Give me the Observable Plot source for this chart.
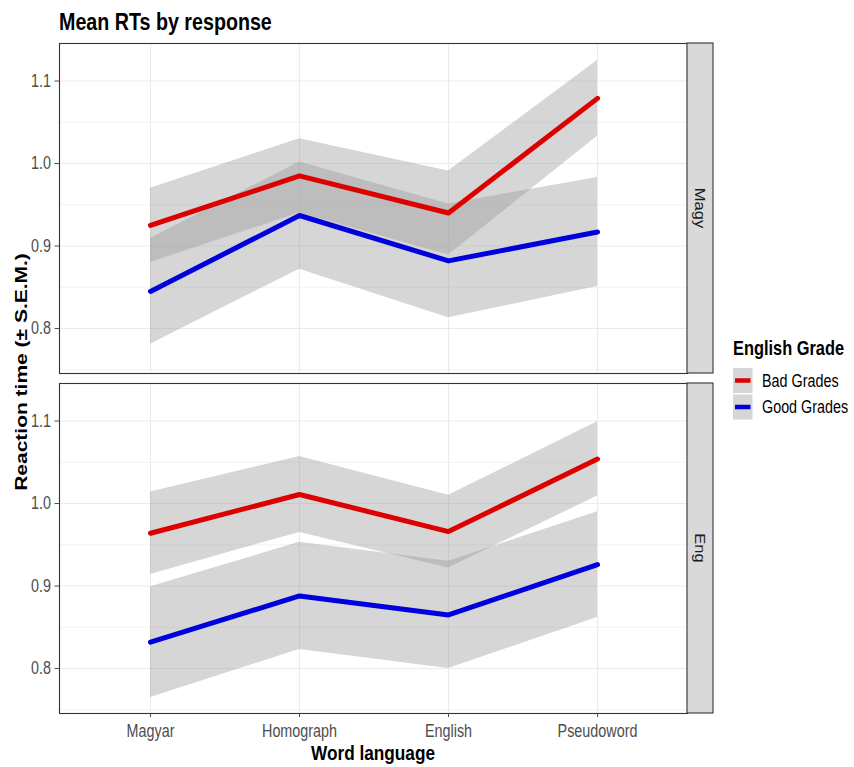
<!DOCTYPE html>
<html>
<head>
<meta charset="utf-8">
<script src="https://cdn.jsdelivr.net/npm/d3@7"></script>
<script src="https://cdn.jsdelivr.net/npm/@observablehq/plot@0.6"></script>
<style>
  body { margin: 0; background: #fff; }
</style>
</head>
<body>
<div id="chart"></div>
<script>
// Word categories along the x axis
const categories = ["Magyar", "Homograph", "English", "Pseudoword"];
// Facet rows (response language) and the grade groups
const facets = ["Magy", "Eng"];
const groups = ["Bad Grades", "Good Grades"];

// Mean reaction times (s) and standard errors, per facet and group
const magyBad = [0.925, 0.985, 0.940, 1.079];
const magyBadSem = [0.045, 0.045, 0.051, 0.046];
const magyGood = [0.845, 0.937, 0.882, 0.917];
const magyGoodSem = [0.064, 0.065, 0.069, 0.066];
const engBad = [0.964, 1.011, 0.966, 1.054];
const engBadSem = [0.050, 0.046, 0.044, 0.045];
const engGood = [0.832, 0.888, 0.865, 0.926];
const engGoodSem = [0.067, 0.065, 0.065, 0.064];

// Axis ticks
const yTicks = [0.8, 0.9, 1.0, 1.1];
const yMinor = [0.75, 0.85, 0.95, 1.05];

const series = [
  ["Magy", "Bad Grades", magyBad, magyBadSem],
  ["Magy", "Good Grades", magyGood, magyGoodSem],
  ["Eng", "Bad Grades", engBad, engBadSem],
  ["Eng", "Good Grades", engGood, engGoodSem]
];
const rows = series.flatMap(([panel, grade, means, sems]) =>
  categories.map((word, i) => ({
    panel, grade, word,
    rt: means[i],
    lo: means[i] - sems[i],
    hi: means[i] + sems[i]
  }))
);

const font = "'Liberation Sans',Arial,sans-serif";
const SQ = 0.82; // horizontal condensing of the text
const lineColors = ["#dd0000", "#0000dd"];

const chart = Plot.plot({
  width: 854,
  height: 767,
  marginTop: 42,
  marginLeft: 59,
  marginRight: 167,
  marginBottom: 53,
  style: { fontFamily: font, background: "#fff", overflow: "visible" },
  x: { type: "point", domain: categories, padding: 0.6, label: null },
  y: { domain: [0.7455, 1.1455], label: null },
  fy: { domain: facets, paddingInner: 0.028, paddingOuter: 0, axis: null, label: null },
  color: { domain: groups, range: lineColors },
  marks: [
    Plot.gridY(yMinor, { stroke: "#ebebeb", strokeOpacity: 1, strokeWidth: 0.6 }),
    Plot.gridY(yTicks, { stroke: "#ebebeb", strokeOpacity: 1, strokeWidth: 1.1 }),
    Plot.gridX(categories, { stroke: "#ebebeb", strokeOpacity: 1, strokeWidth: 1.1 }),
    Plot.areaY(rows, { x: "word", y1: "lo", y2: "hi", z: "grade", fy: "panel", fill: "#999", fillOpacity: 0.4 }),
    Plot.lineY(rows, { x: "word", y: "rt", z: "grade", stroke: "grade", fy: "panel", strokeWidth: 5 }),
    Plot.frame({ stroke: "#333", strokeWidth: 1.1 }),
    Plot.axisY(yTicks, {
      tickSize: 4.5, tickPadding: 4, tickFormat: d => d.toFixed(1),
      fontSize: 17.5, color: "#4d4d4d", label: null
    }),
    Plot.axisX({ tickSize: 4, tickPadding: 7, fontSize: 17.5, color: "#4d4d4d", label: null })
  ]
});

document.getElementById("chart").appendChild(chart);

const svg = d3.select(chart);

// Condense the tick labels horizontally about their anchor point
svg.selectAll("g[aria-label$='tick label'] text").each(function () {
  const t = d3.select(this);
  const x = parseFloat(t.attr("x")) || 0;
  const tr = t.attr("transform") || "";
  t.attr("transform", `${tr} translate(${x},0) scale(${SQ},1) translate(${-x},0)`);
});

// Horizontal text helper: condensed, anchored at (x, y)
function label(parent, x, y, str, size, opts = {}) {
  return parent.append("text")
    .attr("transform", `translate(${x},${y}) scale(${SQ},1)`)
    .attr("text-anchor", opts.anchor || "start")
    .attr("dominant-baseline", opts.baseline || "auto")
    .style("font-family", font)
    .style("font-size", size + "px")
    .style("font-weight", opts.bold ? "bold" : "normal")
    .attr("fill", opts.fill || "#000")
    .text(str);
}

const fy = chart.scale("fy");
const xr = chart.scale("x").range;
const bw = fy.bandwidth;
const stripW = 26;

// Facet strips on the right of each panel
facets.forEach(f => {
  const top = fy.apply(f);
  svg.append("rect")
    .attr("x", xr[1]).attr("y", top)
    .attr("width", stripW).attr("height", bw)
    .attr("fill", "#d9d9d9").attr("stroke", "#333").attr("stroke-width", 1.1);
  svg.append("text")
    .attr("transform", `translate(${xr[1] + stripW / 2},${top + bw / 2}) scale(0.85,1) rotate(90)`)
    .attr("text-anchor", "middle")
    .attr("dominant-baseline", "central")
    .style("font-family", font).style("font-size", "16.5px")
    .attr("fill", "#1a1a1a")
    .text(f);
});

// Title
label(svg, 59, 30, "Mean RTs by response", 24, { bold: true });

// Axis titles
label(svg, (xr[0] + xr[1]) / 2, 760, "Word language", 21, { bold: true, anchor: "middle" });

svg.append("text")
  .attr("transform", `translate(27,372) scale(0.75,1) rotate(-90)`)
  .attr("text-anchor", "middle")
  .style("font-family", font).style("font-size", "21px").style("font-weight", "bold")
  .attr("fill", "#000")
  .text("Reaction time (\u00b1 S.E.M.)");

// Legend
const lg = svg.append("g").attr("transform", "translate(733,0)");
label(lg, 0, 355, "English Grade", 20, { bold: true });
const color = chart.scale("color");
groups.forEach((g, i) => {
  const y0 = 368 + i * 26.5;
  lg.append("rect").attr("x", 0).attr("y", y0).attr("width", 19.5).attr("height", 25)
    .attr("fill", "#d6d6d6");
  lg.append("line").attr("x1", 2).attr("x2", 17.5).attr("y1", y0 + 12.5).attr("y2", y0 + 12.5)
    .attr("stroke", color.apply(g)).attr("stroke-width", 4.5);
  label(lg, 29, y0 + 12.5, g, 17.5, { baseline: "central" });
});
</script>
</body>
</html>
